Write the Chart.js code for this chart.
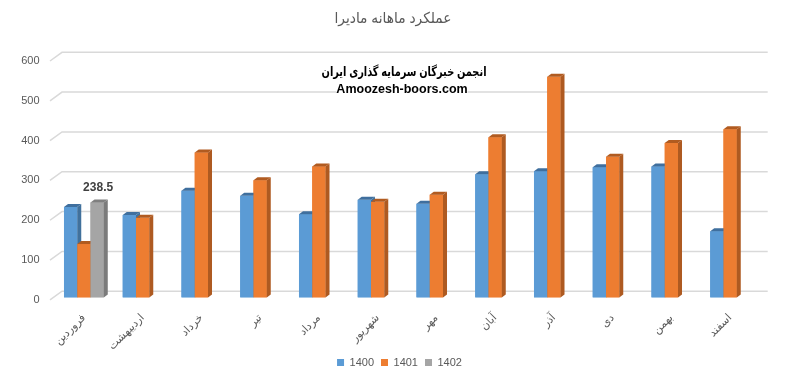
<!DOCTYPE html>
<html>
<head>
<meta charset="utf-8">
<script src="https://cdn.jsdelivr.net/npm/chart.js@4.4.0/dist/chart.umd.min.js"></script>
<style>
  html, body { margin: 0; padding: 0; background: #fff; }
  #wrap { width: 799px; height: 378px; }
</style>
</head>
<body>
<div id="wrap"><canvas id="chart"></canvas></div>
<script>
const months = ['فروردین', 'اردیبهشت', 'خرداد', 'تیر', 'مرداد', 'شهریور', 'مهر', 'آبان', 'آذر', 'دی', 'بهمن', 'اسفند'];
const sales1400 = [227, 207, 268, 255, 209, 245, 235, 309, 317, 327, 329, 166];
const sales1401 = [134, 200, 364, 294, 329, 240, 258, 402, 554, 353, 388, 422];
const sales1402 = [238.5, null, null, null, null, null, null, null, null, null, null, null];
const yTicks = [0, 100, 200, 300, 400, 500, 600];

const FONT = "'Liberation Sans', 'DejaVu Sans', sans-serif";
const GREY = '#595959';
const DX = 4, DY = 3; // depth of the bars

// draw text squeezed to a given width (the persian fallback font is wide)
function fitText(ctx, text, x, y, maxW) {
  const w = ctx.measureText(text).width;
  const k = Math.min(1, maxW / w);
  ctx.save();
  ctx.translate(x, y);
  ctx.scale(k, 1);
  ctx.fillText(text, 0, 0);
  ctx.restore();
  return w * k;
}

// back wall grid lines with the small slanted part on the left
const gridPlugin = {
  id: 'grid3d',
  beforeDatasetsDraw(chart) {
    const ctx = chart.ctx, a = chart.chartArea, y = chart.scales.y;
    ctx.save();
    ctx.strokeStyle = '#d9d9d9';
    ctx.lineWidth = 1.5;
    yTicks.forEach(v => {
      const py = y.getPixelForValue(v);
      ctx.beginPath();
      ctx.moveTo(a.left - 4.5, py + 2.5);
      ctx.lineTo(a.left + 7.5, py - 6.2);
      ctx.lineTo(a.right + 8.2, py - 6.2);
      ctx.stroke();
    });
    ctx.restore();
  }
};

// front, side and top faces, series 1400 first so the next bar covers its side
const facesPlugin = {
  id: 'faces3d',
  afterDatasetsDraw(chart) {
    const ctx = chart.ctx;
    ctx.save();
    chart.data.datasets.forEach((ds, di) => {
      const meta = chart.getDatasetMeta(di);
      meta.data.forEach((bar, i) => {
        if (ds.data[i] == null) return;
        const p = bar.getProps(['x', 'y', 'base', 'width'], true);
        const l = p.x - p.width / 2, r = p.x + p.width / 2;
        ctx.fillStyle = ds.backgroundColor;
        ctx.fillRect(l, p.y, p.width, p.base - p.y);
        ctx.fillStyle = ds.sideColor;
        ctx.beginPath();
        ctx.moveTo(r, p.y);
        ctx.lineTo(r + DX, p.y - DY);
        ctx.lineTo(r + DX, p.base - DY);
        ctx.lineTo(r, p.base);
        ctx.closePath();
        ctx.fill();
        ctx.fillStyle = ds.topColor;
        ctx.beginPath();
        ctx.moveTo(l, p.y);
        ctx.lineTo(l + DX, p.y - DY);
        ctx.lineTo(r + DX, p.y - DY);
        ctx.lineTo(r, p.y);
        ctx.closePath();
        ctx.fill();
      });
    });
    ctx.restore();
  }
};

const labelPlugin = {
  id: 'valueLabel',
  afterDatasetsDraw(chart) {
    const ctx = chart.ctx;
    const meta = chart.getDatasetMeta(2);
    ctx.save();
    ctx.font = 'bold 12px ' + FONT;
    ctx.fillStyle = '#404040';
    ctx.textAlign = 'center';
    ctx.textBaseline = 'middle';
    sales1402.forEach((v, i) => {
      if (v == null) return;
      const bar = meta.data[i];
      ctx.fillText(String(v), bar.x + 1, bar.y - 15);
    });
    ctx.restore();
  }
};

const titlePlugin = {
  id: 'titleText',
  afterDraw(chart) {
    const ctx = chart.ctx;
    ctx.save();
    ctx.textAlign = 'center';
    ctx.textBaseline = 'middle';
    ctx.fillStyle = GREY;
    ctx.font = '15px ' + FONT;
    fitText(ctx, 'عملکرد ماهانه مادیرا', 393, 19, 117);
    ctx.restore();
  }
};

const watermarkPlugin = {
  id: 'watermark',
  afterDraw(chart) {
    const ctx = chart.ctx;
    ctx.save();
    ctx.textAlign = 'center';
    ctx.textBaseline = 'middle';
    ctx.font = 'bold 13px ' + FONT;
    ctx.fillStyle = '#000';
    fitText(ctx, 'انجمن خبرگان سرمایه گذاری ایران', 404, 72, 165);
    ctx.font = 'bold 12.5px ' + FONT;
    const w = ctx.measureText('Amoozesh-boors.com').width;
    ctx.fillStyle = '#fff';
    ctx.fillRect(402 - w / 2, 83, w, 14);
    ctx.fillStyle = '#000';
    ctx.fillText('Amoozesh-boors.com', 402, 90);
    ctx.restore();
  }
};

new Chart(document.getElementById('chart'), {
  type: 'bar',
  data: {
    labels: months,
    datasets: [
      { label: '1400', data: sales1400, backgroundColor: '#5b9bd5', sideColor: '#41719c', topColor: '#3f6f9e' },
      { label: '1401', data: sales1401, backgroundColor: '#ed7d31', sideColor: '#ae5a21', topColor: '#b15b20' },
      { label: '1402', data: sales1402, backgroundColor: '#a5a5a5', sideColor: '#7b7b7b', topColor: '#7f7f7f' }
    ]
  },
  options: {
    responsive: true,
    maintainAspectRatio: false,
    animation: false,
    layout: { padding: { left: 0, right: 0, top: 58.5, bottom: 0 } },
    datasets: { bar: { barPercentage: 1, categoryPercentage: 0.677 } },
    scales: {
      x: {
        grid: { display: false, drawTicks: false },
        border: { display: false },
        ticks: { autoSkip: false, maxRotation: 45, minRotation: 45, padding: 14, color: GREY, font: { size: 11, family: FONT } },
        afterFit: s => { s.height = 52.6; }
      },
      y: {
        min: 0,
        max: 600,
        grid: { display: false, drawTicks: false },
        border: { display: false },
        ticks: { stepSize: 100, padding: 15, labelOffset: 2.5, color: GREY, font: { size: 11, family: FONT } },
        afterFit: s => { s.width = 54.5; }
      },
      // empty axis on the right, only keeps the room beside the back wall
      yRight: {
        position: 'right',
        min: 0,
        max: 600,
        grid: { display: false, drawTicks: false },
        border: { display: false },
        ticks: { display: false },
        afterFit: s => { s.width = 39.5; }
      }
    },
    plugins: {
      title: { display: false },
      legend: {
        position: 'bottom',
        labels: {
          boxWidth: 7, boxHeight: 7, padding: 7, color: GREY,
          font: { size: 11, family: FONT }
        }
      },
      tooltip: { enabled: false }
    }
  },
  plugins: [gridPlugin, facesPlugin, labelPlugin, titlePlugin, watermarkPlugin]
});
</script>
</body>
</html>
